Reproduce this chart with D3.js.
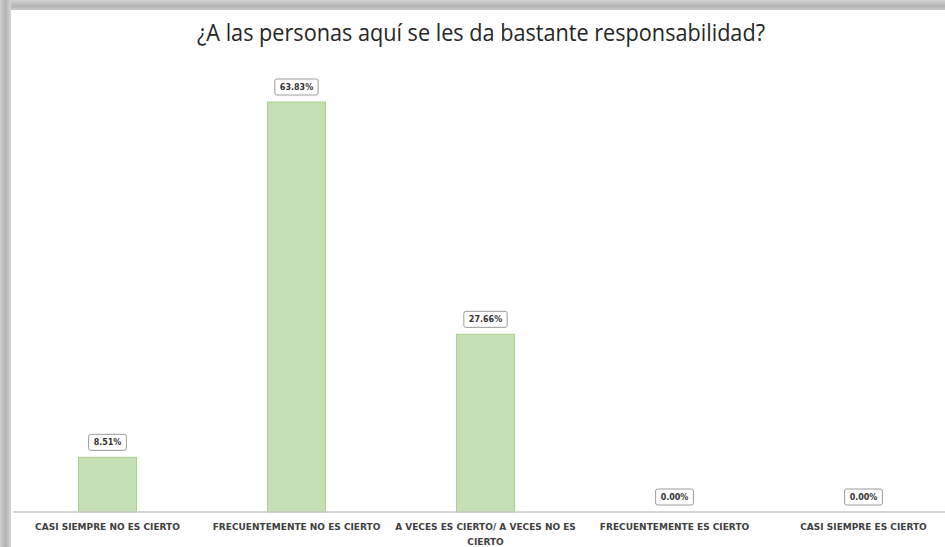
<!DOCTYPE html>
<html>
<head>
<meta charset="utf-8">
<script src="https://cdn.jsdelivr.net/npm/d3@7"></script>
<style>
  body { margin: 0; background: #fff; }
  svg { display: block; }
</style>
</head>
<body>
<div id="chart"></div>
<script>
// data
var categories = [
  "CASI SIEMPRE NO ES CIERTO",
  "FRECUENTEMENTE NO ES CIERTO",
  "A VECES ES CIERTO/ A VECES NO ES CIERTO",
  "FRECUENTEMENTE ES CIERTO",
  "CASI SIEMPRE ES CIERTO"
];
var percents = [8.51, 63.83, 27.66, 0.00, 0.00];
var titleText = "¿A las personas aquí se les da bastante responsabilidad?";

var svgWidth = 945;
var svgHeight = 547;
var baseY = 512;

var svg = d3.select("#chart")
  .append("svg")
  .attr("width", svgWidth)
  .attr("height", svgHeight);

// frame shadow
var defs = svg.append("defs");
var gTop = defs.append("linearGradient").attr("id", "gTop")
  .attr("x1", 0).attr("y1", 0).attr("x2", 0).attr("y2", 1);
gTop.append("stop").attr("offset", "0%").attr("stop-color", "#d4d4d4");
gTop.append("stop").attr("offset", "60%").attr("stop-color", "#b4b4b4");
gTop.append("stop").attr("offset", "100%").attr("stop-color", "#c8c8c8");
var gLeft = defs.append("linearGradient").attr("id", "gLeft")
  .attr("x1", 0).attr("y1", 0).attr("x2", 1).attr("y2", 0);
gLeft.append("stop").attr("offset", "0%").attr("stop-color", "#d0d0d0");
gLeft.append("stop").attr("offset", "50%").attr("stop-color", "#b2b2b2");
gLeft.append("stop").attr("offset", "100%").attr("stop-color", "#d6d6d6");

svg.append("rect").attr("x", 0).attr("y", 0).attr("width", svgWidth).attr("height", 10)
  .attr("fill", "url(#gTop)");
svg.append("rect").attr("x", 0).attr("y", 0).attr("width", 11).attr("height", svgHeight)
  .attr("fill", "url(#gLeft)");
svg.append("rect").attr("x", 11).attr("y", 10).attr("width", svgWidth - 11).attr("height", svgHeight - 10)
  .attr("fill", "#fff");

// scales
var x = d3.scaleBand()
  .domain(categories)
  .range([13, 958])
  .paddingInner(0.693)
  .paddingOuter(0.3465);

var y = d3.scaleLinear()
  .domain([0, 70])
  .range([baseY, baseY - 410 * 70 / 63.83]);

// title (condensed to the width seen in the picture)
svg.append("text")
  .attr("x", 481)
  .attr("y", 41)
  .attr("text-anchor", "middle")
  .attr("textLength", 568)
  .attr("lengthAdjust", "spacingAndGlyphs")
  .style("font-family", "'Open Sans', sans-serif")
  .style("font-size", "23px")
  .style("fill", "#262626")
  .text(titleText);

// bars
svg.append("g")
  .selectAll("rect")
  .data(percents)
  .enter()
  .append("rect")
  .attr("x", function(d, i) { return x(categories[i]); })
  .attr("y", function(d) { return y(d); })
  .attr("width", x.bandwidth())
  .attr("height", function(d) { return baseY - y(d); })
  .attr("fill", "#c5e0b4")
  .attr("stroke", "#a9d08e")
  .attr("stroke-width", 1);

// axis
var axis = svg.append("g")
  .attr("transform", "translate(0," + baseY + ")")
  .call(d3.axisBottom(x).tickSize(0).tickPadding(12));
axis.select(".domain").attr("stroke", "#c8c8c8").attr("stroke-width", 1.5)
  .attr("d", "M13,0H945");
axis.selectAll("text")
  .style("font-family", "'DejaVu Sans', sans-serif")
  .style("font-weight", "bold")
  .style("font-size", "9px")
  .style("fill", "#404040")
  .call(wrap, 182);

function wrap(sel, width) {
  sel.each(function() {
    var text = d3.select(this);
    var words = text.text().split(/\s+/);
    var yy = text.attr("y");
    var dy = parseFloat(text.attr("dy"));
    text.text(null);
    var line = [];
    var lineNo = 0;
    var tspan = text.append("tspan").attr("x", 0).attr("y", yy).attr("dy", dy + "em");
    words.forEach(function(w) {
      line.push(w);
      tspan.text(line.join(" "));
      if (tspan.node().getComputedTextLength() > width && line.length > 1) {
        line.pop();
        tspan.text(line.join(" "));
        line = [w];
        lineNo++;
        tspan = text.append("tspan").attr("x", 0).attr("y", yy)
          .attr("dy", (dy + lineNo * 1.65) + "em").text(w);
      }
    });
  });
}

// data labels
var labels = svg.append("g")
  .selectAll("g")
  .data(percents)
  .enter()
  .append("g")
  .attr("transform", function(d, i) {
    return "translate(" + (x(categories[i]) + x.bandwidth() / 2) + "," + (y(d) - 15) + ")";
  });
labels.append("text")
  .attr("text-anchor", "middle")
  .attr("dy", "0.35em")
  .style("font-family", "'DejaVu Sans', sans-serif")
  .style("font-weight", "bold")
  .style("font-size", "8px")
  .style("fill", "#333")
  .text(function(d) { return d.toFixed(2) + "%"; });
labels.insert("rect", "text")
  .each(function() {
    var w = this.parentNode.querySelector("text").getComputedTextLength() + 10;
    d3.select(this).attr("x", -w / 2).attr("width", w);
  })
  .attr("y", -8)
  .attr("height", 16)
  .attr("rx", 2)
  .attr("fill", "#fff")
  .attr("stroke", "#9a9a9a")
  .attr("stroke-width", 1);
</script>
</body>
</html>
